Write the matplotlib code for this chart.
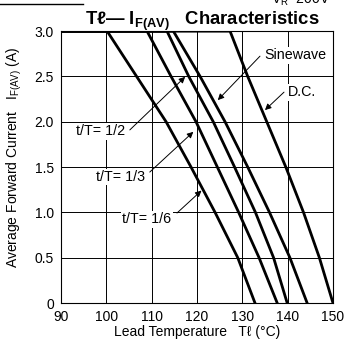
import matplotlib
matplotlib.use("Agg")
import matplotlib.pyplot as plt
from matplotlib.lines import Line2D

plt.rcParams["font.family"] = ["Liberation Sans", "DejaVu Sans"]
plt.rcParams["mathtext.fontset"] = "custom"
plt.rcParams["mathtext.rm"] = "Liberation Sans"
plt.rcParams["mathtext.bf"] = "Liberation Sans:bold"

# current levels (A) and lead temperature (degC) at which each curve crosses them
current = [3.0, 3.0, 2.5, 2.0, 1.5, 1.0, 0.5, 0.0]
t_1_6 = [90, 100.2, 106.7, 113.2, 118.7, 124.0, 129.0, 132.8]
t_1_3 = [90, 109.0, 114.3, 119.8, 124.5, 129.2, 133.7, 137.7]
t_1_2 = [90, 113.4, 118.2, 123.6, 128.3, 132.9, 136.9, 139.9]
t_sine = [90, 114.8, 120.7, 126.2, 131.2, 136.0, 140.5, 144.3]
t_dc = [90, 127.3, 131.2, 135.4, 139.6, 143.5, 147.0, 150.0]

x_ticks = [90, 100, 110, 120, 130, 140, 150]
y_ticks = [0, 0.5, 1.0, 1.5, 2.0, 2.5, 3.0]
y_ticklabels = ["0", "0.5", "1.0", "1.5", "2.0", "2.5", "3.0"]

fig = plt.figure(figsize=(3.44, 3.45), dpi=100)
ax = fig.add_axes([0.177, 0.1217, 0.791, 0.788])

for t in [t_1_6, t_1_3, t_1_2, t_sine, t_dc]:
    ax.plot(t, current, color="black", lw=2.0, solid_joinstyle="round", zorder=3)

ax.set_xlim(90, 150)
ax.set_ylim(0, 3.0)
ax.set_xticks(x_ticks)
ax.set_yticks(y_ticks)
ax.set_yticklabels(y_ticklabels)
ax.tick_params(length=0, labelsize=10, pad=5)
ax.grid(True, color="black", lw=0.7)
for s in ax.spines.values():
    s.set_linewidth(0.8)

# curve labels with arrows
box = dict(facecolor="white", edgecolor="none", pad=1.0)
arrow = dict(arrowstyle="-|>", lw=0.7, color="black", mutation_scale=9,
             shrinkA=0, shrinkB=0)
labels = [
    ("t/T= 1/2", (98.7, 1.897), (105.2, 1.91), (117.4, 2.496)),
    ("t/T= 1/3", (103.1, 1.39), (109.6, 1.445), (119.2, 1.889)),
    ("t/T= 1/6", (108.9, 0.926), (115.6, 0.993), (121.0, 1.241)),
    ("Sinewave", (141.8, 2.735), (133.9, 2.724), (124.6, 2.239)),
    ("D.C.", (143.2, 2.327), (139.2, 2.327), (135.0, 2.129)),
]
for text, pos, start, tip in labels:
    ax.annotate("", xy=tip, xytext=start, arrowprops=arrow, zorder=4)
    ax.text(pos[0], pos[1], text, fontsize=10.3, ha="center", va="center",
            bbox=box, zorder=5)

fig.text(0.573, 1 - 332 / 345, "Lead Temperature   T\u2113 (\u00b0C)",
         fontsize=10, ha="center", va="center")
fig.text(14 / 344, 1 - 157 / 345,
         "Average Forward Current   I$_{\\mathregular{F(AV)}}$ (A)",
         fontsize=10, rotation=90, ha="center", va="center")
fig.text(0.588, 1 - 25 / 345,
         "T\u2113\u2014 I$_{\\mathbf{F(AV)}}$   Characteristics",
         fontsize=13.3, fontweight="bold", ha="center", va="baseline")
fig.text(0.96, 1 - 4 / 345, "V$_{\\mathregular{R}}$=200V", fontsize=10,
         ha="right", va="baseline")
fig.add_artist(Line2D([0, 83 / 344], [1 - 4 / 345, 1 - 4 / 345],
                      color="black", lw=1.0, transform=fig.transFigure))

fig.savefig("out.png", dpi=100)
